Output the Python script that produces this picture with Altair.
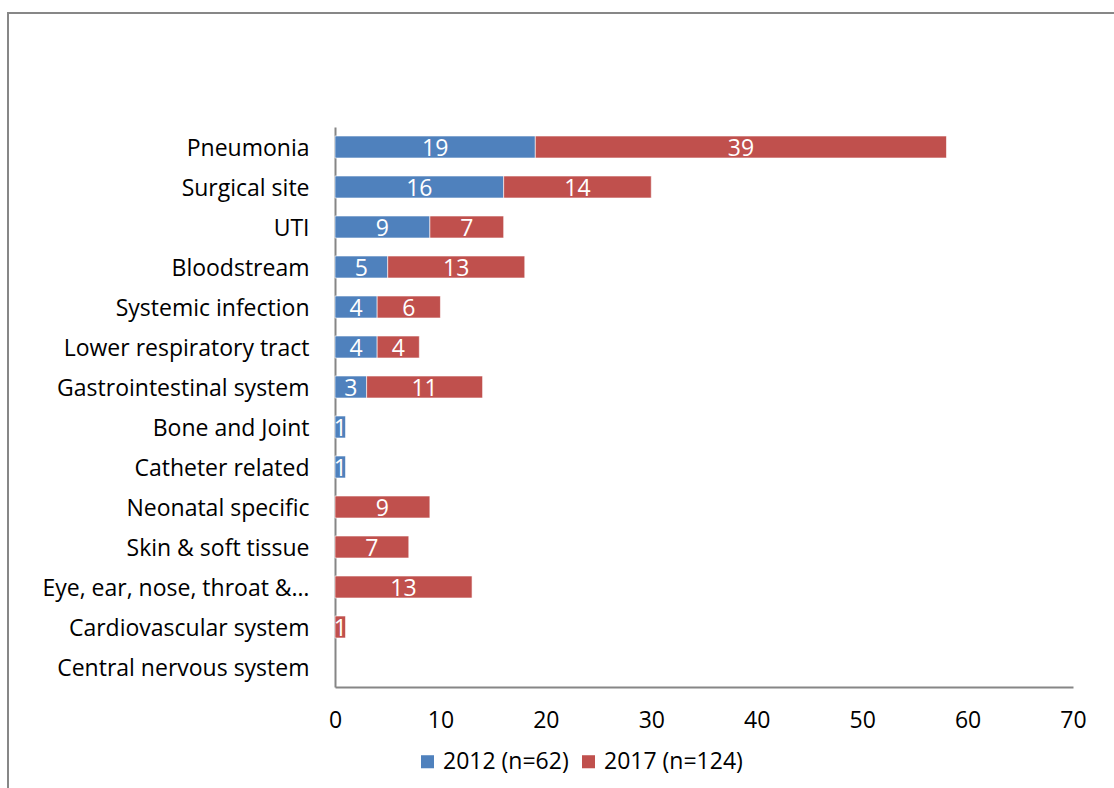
import altair as alt
import pandas as pd

categories = [
    "Pneumonia", "Surgical site\u2002", "UTI", "Bloodstream\u2002", "Systemic infection",
    "Lower respiratory tract", "Gastrointestinal system", "Bone and Joint",
    "Catheter related", "Neonatal specific\u2002", "Skin & soft tissue",
    "Eye, ear, nose, throat &\u2026", "Cardiovascular system", "Central nervous system",
]
values_2012 = [19, 16, 9, 5, 4, 4, 3, 1, 1, 0, 0, 0, 0, 0]
values_2017 = [39, 14, 7, 13, 6, 4, 11, 0, 0, 9, 7, 13, 1, 0]
series = ["2012 (n=62)", "2017 (n=124)"]
colors = ["#4F81BD", "#C0504D"]
x_ticks = [0, 10, 20, 30, 40, 50, 60, 70]

rows = []
for c, a, b in zip(categories, values_2012, values_2017):
    rows.append({"cat": c, "series": series[0], "value": a, "ord": 0})
    rows.append({"cat": c, "series": series[1], "value": b, "ord": 1})
df = pd.DataFrame(rows)

FONT = "Open Sans"
FS = 23

base = alt.Chart(df).transform_stack(
    stack="value", groupby=["cat"], as_=["start", "end"],
    sort=[alt.SortField("ord", order="ascending")],
).transform_calculate(mid="(datum.start + datum.end) / 2")

yscale = alt.Scale(domain=categories, paddingInner=0.45, paddingOuter=0.225)

y = alt.Y("cat:N", sort=categories, title=None, scale=yscale,
          axis=alt.Axis(domainColor="#868686", domainWidth=2, ticks=False,
                        labelPadding=26, labelFontSize=FS, labelFont=FONT,
                        labelColor="#000000", labelLimit=400, labelOffset=2))
x = alt.X("start:Q", title=None,
          scale=alt.Scale(domain=[0, 70], nice=False),
          axis=alt.Axis(values=x_ticks, grid=False, ticks=False, domainColor="#868686",
                        domainWidth=2, labelPadding=22, labelFontSize=FS, labelFont=FONT,
                        labelColor="#000000", labelFlush=False))

bars = base.mark_bar(stroke="white", strokeWidth=0.6).encode(
    y=y,
    x=x,
    x2="end:Q",
    color=alt.Color("series:N", scale=alt.Scale(domain=series, range=colors),
                    legend=alt.Legend(title=None, orient="none", direction="horizontal",
                                      legendX=81, legendY=623, symbolType="square",
                                      symbolSize=170, symbolStrokeWidth=0,
                                      labelFontSize=FS, labelFont=FONT, labelColor="#000000",
                                      columnPadding=8, symbolOffset=0)),
).transform_filter("datum.value > 0")

labels = base.mark_text(color="white", fontSize=FS, font=FONT, baseline="middle", dy=2).encode(
    y=alt.Y("cat:N", sort=categories, scale=yscale),
    x=alt.X("mid:Q"),
    text=alt.Text("value:Q"),
).transform_filter("datum.value > 0")

frame = alt.Chart(pd.DataFrame({"f": [0]})).mark_rect(
    fill=None, filled=False, stroke="#878787", strokeWidth=2
).encode(
    x=alt.value(-327), x2=alt.value(800), y=alt.value(-114), y2=alt.value(700)
)

chart = alt.layer(frame, bars, labels).properties(
    width=738, height=560,
    autosize=alt.AutoSizeParams(type="none"),
    padding={"left": 335, "top": 127, "right": 41, "bottom": 101},
).configure(background="white").configure_view(strokeWidth=0, stroke="transparent")

chart.save("out.html", embed_options={"renderer": "svg", "actions": False})
